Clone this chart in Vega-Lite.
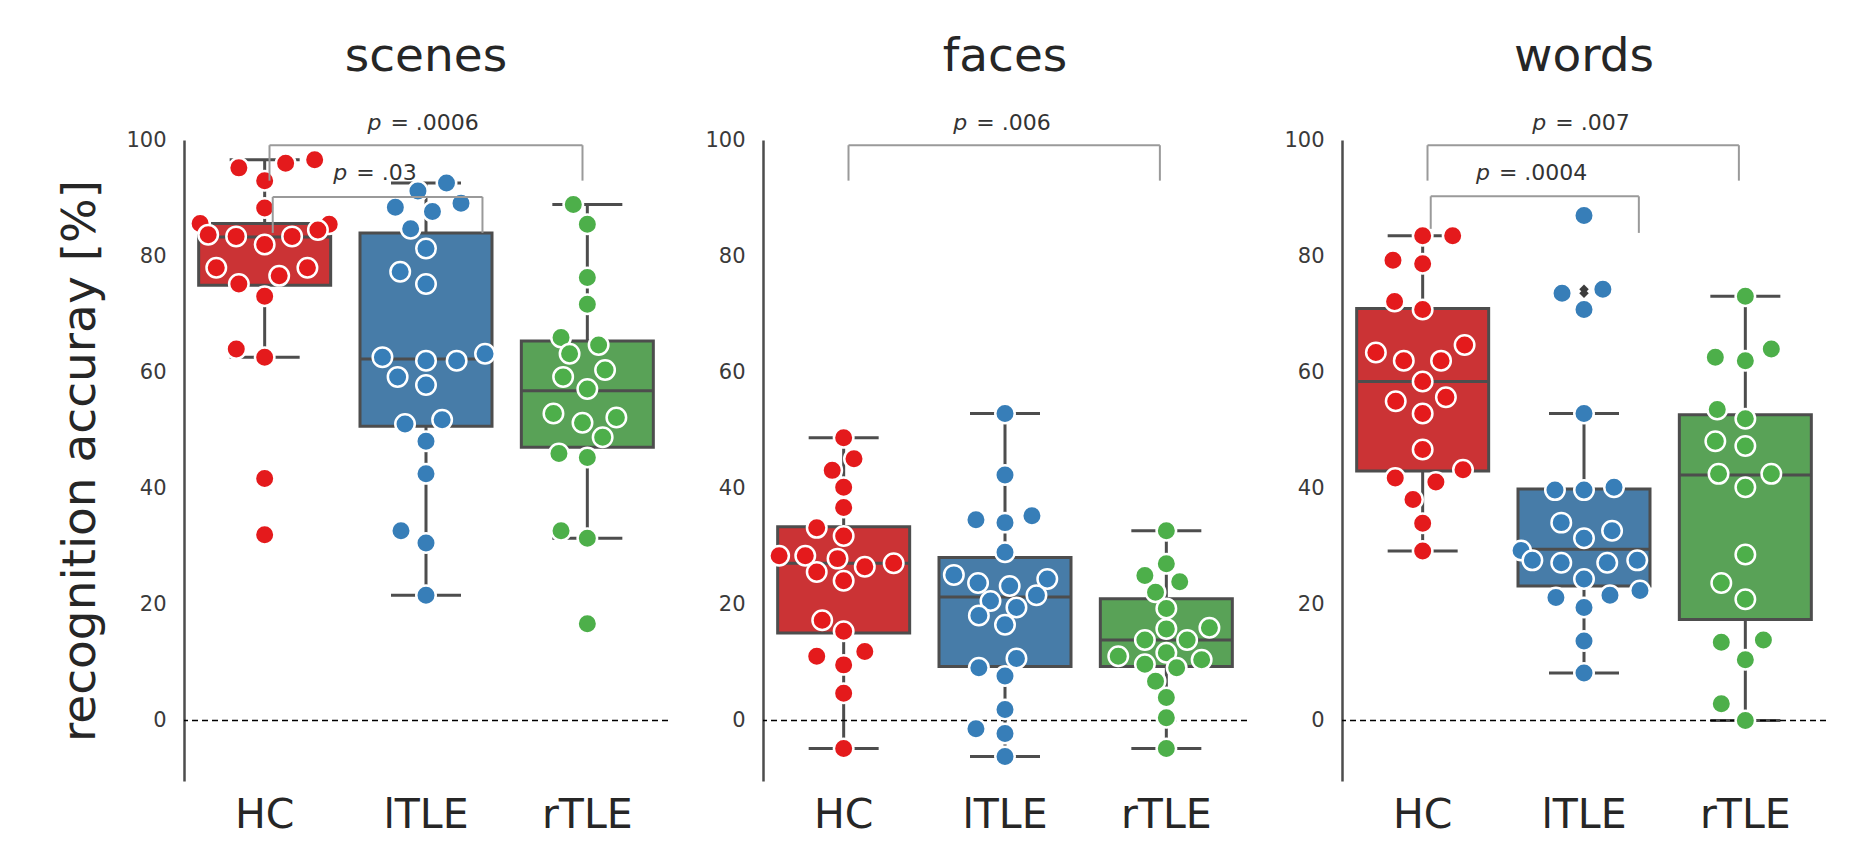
{
"$schema": "https://vega.github.io/schema/vega-lite/v6.json",
"padding": {"left": 56, "top": 32, "right": 10, "bottom": 10},
"background": "white",
"config": {
 "font": "DejaVu Sans",
 "view": {"stroke": null},
 "axisY": {"grid": false, "ticks": false, "domainColor": "#4d4d4d", "domainWidth": 2.5, "labelFontSize": 21, "labelColor": "#3a3a3a", "labelPadding": 18, "titleFontSize": 47, "titleFontWeight": "normal", "titleColor": "#262626", "titlePadding": 21},
 "axisX": {"grid": false, "ticks": false, "domain": false, "labelFontSize": 41, "labelColor": "#262626", "labelPadding": 14, "labelAngle": 0},
 "title": {"fontSize": 47, "fontWeight": "normal", "color": "#262626", "offset": 31}
},
"datasets": {
 "pts": [
  {"t":"scenes","g":"HC","v":95.2,"s":-0.16},{"t":"scenes","g":"HC","v":96.0,"s":0.13},{"t":"scenes","g":"HC","v":96.6,"s":0.31},{"t":"scenes","g":"HC","v":93.0,"s":0},{"t":"scenes","g":"HC","v":88.3,"s":0},{"t":"scenes","g":"HC","v":85.6,"s":-0.4},{"t":"scenes","g":"HC","v":85.5,"s":0.4},{"t":"scenes","g":"HC","v":83.7,"s":-0.35},{"t":"scenes","g":"HC","v":83.4,"s":-0.177},{"t":"scenes","g":"HC","v":83.4,"s":0.17},{"t":"scenes","g":"HC","v":84.5,"s":0.33},{"t":"scenes","g":"HC","v":82.0,"s":0},{"t":"scenes","g":"HC","v":78.0,"s":-0.3},{"t":"scenes","g":"HC","v":78.0,"s":0.265},{"t":"scenes","g":"HC","v":75.2,"s":-0.16},{"t":"scenes","g":"HC","v":76.6,"s":0.09},{"t":"scenes","g":"HC","v":73.1,"s":0},{"t":"scenes","g":"HC","v":64.0,"s":-0.176},{"t":"scenes","g":"HC","v":62.6,"s":0},{"t":"scenes","g":"HC","v":41.7,"s":0},{"t":"scenes","g":"HC","v":32.0,"s":0},
  {"t":"scenes","g":"lTLE","v":92.6,"s":0.127},{"t":"scenes","g":"lTLE","v":91.2,"s":-0.05},{"t":"scenes","g":"lTLE","v":88.4,"s":-0.19},{"t":"scenes","g":"lTLE","v":87.7,"s":0.04},{"t":"scenes","g":"lTLE","v":89.1,"s":0.217},{"t":"scenes","g":"lTLE","v":84.7,"s":-0.095},{"t":"scenes","g":"lTLE","v":81.3,"s":0},{"t":"scenes","g":"lTLE","v":77.3,"s":-0.16},{"t":"scenes","g":"lTLE","v":75.2,"s":0},{"t":"scenes","g":"lTLE","v":62.6,"s":-0.27},{"t":"scenes","g":"lTLE","v":62.0,"s":0},{"t":"scenes","g":"lTLE","v":62.0,"s":0.19},{"t":"scenes","g":"lTLE","v":63.2,"s":0.366},{"t":"scenes","g":"lTLE","v":59.2,"s":-0.176},{"t":"scenes","g":"lTLE","v":57.8,"s":0},{"t":"scenes","g":"lTLE","v":51.1,"s":-0.13},{"t":"scenes","g":"lTLE","v":51.8,"s":0.1},{"t":"scenes","g":"lTLE","v":48.1,"s":0},{"t":"scenes","g":"lTLE","v":42.5,"s":0},{"t":"scenes","g":"lTLE","v":32.7,"s":-0.155},{"t":"scenes","g":"lTLE","v":30.6,"s":0},{"t":"scenes","g":"lTLE","v":21.6,"s":0},
  {"t":"scenes","g":"rTLE","v":88.9,"s":-0.087},{"t":"scenes","g":"rTLE","v":85.5,"s":0},{"t":"scenes","g":"rTLE","v":76.3,"s":0},{"t":"scenes","g":"rTLE","v":71.7,"s":0},{"t":"scenes","g":"rTLE","v":66.0,"s":-0.163},{"t":"scenes","g":"rTLE","v":64.7,"s":0.07},{"t":"scenes","g":"rTLE","v":63.2,"s":-0.11},{"t":"scenes","g":"rTLE","v":60.4,"s":0.11},{"t":"scenes","g":"rTLE","v":59.2,"s":-0.15},{"t":"scenes","g":"rTLE","v":57.1,"s":0},{"t":"scenes","g":"rTLE","v":52.9,"s":-0.21},{"t":"scenes","g":"rTLE","v":52.2,"s":0.18},{"t":"scenes","g":"rTLE","v":51.3,"s":-0.03},{"t":"scenes","g":"rTLE","v":48.8,"s":0.095},{"t":"scenes","g":"rTLE","v":46.0,"s":-0.176},{"t":"scenes","g":"rTLE","v":45.3,"s":0},{"t":"scenes","g":"rTLE","v":32.7,"s":-0.163},{"t":"scenes","g":"rTLE","v":31.4,"s":0},{"t":"scenes","g":"rTLE","v":16.7,"s":0},
  {"t":"faces","g":"HC","v":48.7,"s":0},{"t":"faces","g":"HC","v":45.1,"s":0.064},{"t":"faces","g":"HC","v":43.1,"s":-0.071},{"t":"faces","g":"HC","v":40.2,"s":0},{"t":"faces","g":"HC","v":36.7,"s":0},{"t":"faces","g":"HC","v":33.2,"s":-0.167},{"t":"faces","g":"HC","v":31.8,"s":0},{"t":"faces","g":"HC","v":28.4,"s":-0.4},{"t":"faces","g":"HC","v":28.4,"s":-0.238},{"t":"faces","g":"HC","v":27.9,"s":-0.038},{"t":"faces","g":"HC","v":25.6,"s":-0.167},{"t":"faces","g":"HC","v":26.5,"s":0.131},{"t":"faces","g":"HC","v":27.1,"s":0.31},{"t":"faces","g":"HC","v":24.1,"s":0},{"t":"faces","g":"HC","v":17.3,"s":-0.133},{"t":"faces","g":"HC","v":15.4,"s":0},{"t":"faces","g":"HC","v":11.1,"s":-0.167},{"t":"faces","g":"HC","v":11.9,"s":0.131},{"t":"faces","g":"HC","v":9.6,"s":0},{"t":"faces","g":"HC","v":4.7,"s":0},{"t":"faces","g":"HC","v":-4.8,"s":0},
  {"t":"faces","g":"lTLE","v":52.9,"s":0},{"t":"faces","g":"lTLE","v":42.3,"s":0},{"t":"faces","g":"lTLE","v":34.6,"s":-0.18},{"t":"faces","g":"lTLE","v":34.1,"s":0},{"t":"faces","g":"lTLE","v":35.3,"s":0.167},{"t":"faces","g":"lTLE","v":29.0,"s":0},{"t":"faces","g":"lTLE","v":25.1,"s":-0.317},{"t":"faces","g":"lTLE","v":23.7,"s":-0.167},{"t":"faces","g":"lTLE","v":23.2,"s":0.029},{"t":"faces","g":"lTLE","v":24.4,"s":0.262},{"t":"faces","g":"lTLE","v":20.6,"s":-0.09},{"t":"faces","g":"lTLE","v":21.6,"s":0.195},{"t":"faces","g":"lTLE","v":19.5,"s":0.071},{"t":"faces","g":"lTLE","v":18.1,"s":-0.162},{"t":"faces","g":"lTLE","v":16.5,"s":0},{"t":"faces","g":"lTLE","v":9.1,"s":-0.162},{"t":"faces","g":"lTLE","v":10.7,"s":0.071},{"t":"faces","g":"lTLE","v":7.7,"s":0},{"t":"faces","g":"lTLE","v":1.9,"s":0},{"t":"faces","g":"lTLE","v":-1.4,"s":-0.18},{"t":"faces","g":"lTLE","v":-2.2,"s":0},{"t":"faces","g":"lTLE","v":-6.2,"s":0},
  {"t":"faces","g":"rTLE","v":32.7,"s":0},{"t":"faces","g":"rTLE","v":27.0,"s":0},{"t":"faces","g":"rTLE","v":25.0,"s":-0.133},{"t":"faces","g":"rTLE","v":23.9,"s":0.083},{"t":"faces","g":"rTLE","v":22.1,"s":-0.067},{"t":"faces","g":"rTLE","v":19.3,"s":0},{"t":"faces","g":"rTLE","v":16.0,"s":0.267},{"t":"faces","g":"rTLE","v":15.8,"s":0},{"t":"faces","g":"rTLE","v":13.9,"s":-0.133},{"t":"faces","g":"rTLE","v":13.9,"s":0.129},{"t":"faces","g":"rTLE","v":11.1,"s":-0.298},{"t":"faces","g":"rTLE","v":11.7,"s":0},{"t":"faces","g":"rTLE","v":9.7,"s":-0.133},{"t":"faces","g":"rTLE","v":10.5,"s":0.219},{"t":"faces","g":"rTLE","v":9.1,"s":0.064},{"t":"faces","g":"rTLE","v":6.8,"s":-0.067},{"t":"faces","g":"rTLE","v":4.0,"s":0},{"t":"faces","g":"rTLE","v":0.5,"s":0},{"t":"faces","g":"rTLE","v":-4.8,"s":0},
  {"t":"words","g":"HC","v":83.5,"s":0},{"t":"words","g":"HC","v":83.5,"s":0.186},{"t":"words","g":"HC","v":79.3,"s":-0.184},{"t":"words","g":"HC","v":78.7,"s":0},{"t":"words","g":"HC","v":72.2,"s":-0.174},{"t":"words","g":"HC","v":70.8,"s":0},{"t":"words","g":"HC","v":63.4,"s":-0.29},{"t":"words","g":"HC","v":64.7,"s":0.26},{"t":"words","g":"HC","v":62.0,"s":-0.117},{"t":"words","g":"HC","v":62.0,"s":0.114},{"t":"words","g":"HC","v":58.4,"s":0},{"t":"words","g":"HC","v":55.0,"s":-0.167},{"t":"words","g":"HC","v":55.7,"s":0.144},{"t":"words","g":"HC","v":52.9,"s":0},{"t":"words","g":"HC","v":46.7,"s":0},{"t":"words","g":"HC","v":41.8,"s":-0.17},{"t":"words","g":"HC","v":41.1,"s":0.082},{"t":"words","g":"HC","v":43.2,"s":0.25},{"t":"words","g":"HC","v":38.1,"s":-0.06},{"t":"words","g":"HC","v":34.0,"s":0},{"t":"words","g":"HC","v":29.2,"s":0},
  {"t":"words","g":"lTLE","v":87.0,"s":0},{"t":"words","g":"lTLE","v":73.6,"s":-0.136},{"t":"words","g":"lTLE","v":74.3,"s":0.117},{"t":"words","g":"lTLE","v":70.8,"s":0},{"t":"words","g":"lTLE","v":52.9,"s":0},{"t":"words","g":"lTLE","v":39.7,"s":-0.18},{"t":"words","g":"lTLE","v":39.7,"s":0},{"t":"words","g":"lTLE","v":40.2,"s":0.186},{"t":"words","g":"lTLE","v":34.1,"s":-0.141},{"t":"words","g":"lTLE","v":32.7,"s":0.174},{"t":"words","g":"lTLE","v":31.4,"s":0},{"t":"words","g":"lTLE","v":29.3,"s":-0.39},{"t":"words","g":"lTLE","v":27.6,"s":-0.32},{"t":"words","g":"lTLE","v":27.2,"s":-0.141},{"t":"words","g":"lTLE","v":27.2,"s":0.144},{"t":"words","g":"lTLE","v":27.6,"s":0.33},{"t":"words","g":"lTLE","v":24.4,"s":0},{"t":"words","g":"lTLE","v":21.2,"s":-0.174},{"t":"words","g":"lTLE","v":21.6,"s":0.161},{"t":"words","g":"lTLE","v":22.4,"s":0.347},{"t":"words","g":"lTLE","v":19.5,"s":0},{"t":"words","g":"lTLE","v":13.7,"s":0},{"t":"words","g":"lTLE","v":8.2,"s":0},
  {"t":"words","g":"rTLE","v":73.1,"s":0},{"t":"words","g":"rTLE","v":62.6,"s":-0.186},{"t":"words","g":"rTLE","v":62.0,"s":0},{"t":"words","g":"rTLE","v":64.0,"s":0.161},{"t":"words","g":"rTLE","v":53.6,"s":-0.174},{"t":"words","g":"rTLE","v":52.0,"s":0},{"t":"words","g":"rTLE","v":48.1,"s":-0.186},{"t":"words","g":"rTLE","v":47.3,"s":0},{"t":"words","g":"rTLE","v":42.5,"s":-0.166},{"t":"words","g":"rTLE","v":42.5,"s":0.161},{"t":"words","g":"rTLE","v":40.2,"s":0},{"t":"words","g":"rTLE","v":28.6,"s":0},{"t":"words","g":"rTLE","v":23.7,"s":-0.149},{"t":"words","g":"rTLE","v":20.9,"s":0},{"t":"words","g":"rTLE","v":13.5,"s":-0.149},{"t":"words","g":"rTLE","v":13.9,"s":0.112},{"t":"words","g":"rTLE","v":10.5,"s":0},{"t":"words","g":"rTLE","v":2.9,"s":-0.149},{"t":"words","g":"rTLE","v":0.0,"s":0}
 ],
 "box": [
  {"t":"scenes","g":"HC","lo":62.6,"q1":75.0,"med":83.3,"q3":85.6,"hi":96.6},
  {"t":"scenes","g":"lTLE","lo":21.6,"q1":50.7,"med":62.3,"q3":84.0,"hi":92.6},
  {"t":"scenes","g":"rTLE","lo":31.4,"q1":47.1,"med":56.8,"q3":65.4,"hi":88.9},
  {"t":"faces","g":"HC","lo":-4.8,"q1":15.1,"med":27.1,"q3":33.4,"hi":48.7},
  {"t":"faces","g":"lTLE","lo":-6.2,"q1":9.3,"med":21.3,"q3":28.1,"hi":52.9},
  {"t":"faces","g":"rTLE","lo":-4.8,"q1":9.3,"med":13.9,"q3":21.0,"hi":32.7},
  {"t":"words","g":"HC","lo":29.2,"q1":43.0,"med":58.4,"q3":71.0,"hi":83.5},
  {"t":"words","g":"lTLE","lo":8.2,"q1":23.2,"med":29.5,"q3":39.9,"hi":52.9},
  {"t":"words","g":"rTLE","lo":0.0,"q1":17.4,"med":42.3,"q3":52.7,"hi":73.1}
 ],
 "fl": [
  {"t":"scenes","g":"HC","v":41.7},{"t":"scenes","g":"HC","v":32.0},{"t":"scenes","g":"rTLE","v":16.7},
  {"t":"words","g":"lTLE","v":87.0},{"t":"words","g":"lTLE","v":74.3},{"t":"words","g":"lTLE","v":73.6},{"t":"words","g":"lTLE","v":70.8}
 ],
 "br": [
  {"t":"scenes","x1":0.03,"x2":1.97,"y":99.1,"yl":93.0,"yr":93.0,"tx":0.637,"ty":101.8,"lab":"= .0006"},
  {"t":"scenes","x1":0.05,"x2":1.35,"y":90.2,"yl":84.0,"yr":84.0,"tx":0.425,"ty":93.1,"lab":"= .03"},
  {"t":"faces","x1":0.03,"x2":1.96,"y":99.1,"yl":93.0,"yr":93.0,"tx":0.68,"ty":101.8,"lab":"= .006"},
  {"t":"words","x1":0.03,"x2":1.96,"y":99.1,"yl":93.0,"yr":93.0,"tx":0.68,"ty":101.8,"lab":"= .007"},
  {"t":"words","x1":0.05,"x2":1.34,"y":90.3,"yl":84.7,"yr":84.0,"tx":0.33,"ty":93.1,"lab":"= .0004"}
 ]
},
"hconcat": [
 {
  "title": "scenes", "width": 484, "height": 641,
  "resolve": {"scale": {"x": "independent"}},
  "layer": [
   {"layer": [
    {"data": {"name": "box"}, "transform": [{"filter": "datum.t === 'scenes'"}],
     "mark": {"type": "rule", "color": "#4d4d4d", "strokeWidth": 3},
     "encoding": {"x": {"field": "g", "type": "nominal", "title": null, "sort": null, "scale": {"domain": ["HC","lTLE","rTLE"], "paddingInner": 0, "paddingOuter": 0}},
      "y": {"field": "lo", "type": "quantitative", "title": "recognition accuray [%]", "scale": {"domain": [-10.4, 100], "nice": false, "zero": false}, "axis": {"values": [0,20,40,60,80,100], "title": "recognition accuray [%]"}},
      "y2": {"field": "hi"}}},
    {"data": {"name": "box"}, "transform": [{"filter": "datum.t === 'scenes'"}],
     "mark": {"type": "bar", "size": 132, "stroke": "#4d4d4d", "strokeWidth": 3},
     "encoding": {"x": {"field": "g", "type": "nominal", "title": null},
      "y": {"field": "q1", "type": "quantitative", "title": "recognition accuray [%]"}, "y2": {"field": "q3"},
      "fill": {"field": "g", "type": "nominal", "scale": {"domain": ["HC","lTLE","rTLE"], "range": ["#cb3335","#477ca8","#59a257"]}, "legend": null}}},
    {"data": {"name": "box"}, "transform": [{"filter": "datum.t === 'scenes'"}],
     "mark": {"type": "tick", "orient": "horizontal", "size": 132, "thickness": 3, "color": "#4d4d4d", "opacity": 1},
     "encoding": {"x": {"field": "g", "type": "nominal", "title": null}, "y": {"field": "med", "type": "quantitative", "title": "recognition accuray [%]"}}},
    {"data": {"name": "box"}, "transform": [{"filter": "datum.t === 'scenes'"}],
     "mark": {"type": "tick", "orient": "horizontal", "size": 70, "thickness": 3, "color": "#4d4d4d", "opacity": 1},
     "encoding": {"x": {"field": "g", "type": "nominal", "title": null}, "y": {"field": "lo", "type": "quantitative", "title": "recognition accuray [%]"}}},
    {"data": {"name": "box"}, "transform": [{"filter": "datum.t === 'scenes'"}],
     "mark": {"type": "tick", "orient": "horizontal", "size": 70, "thickness": 3, "color": "#4d4d4d", "opacity": 1},
     "encoding": {"x": {"field": "g", "type": "nominal", "title": null}, "y": {"field": "hi", "type": "quantitative", "title": "recognition accuray [%]"}}},
    {"data": {"values": [{}]},
     "mark": {"type": "rule", "color": "black", "strokeWidth": 1.5, "strokeDash": [6, 4]},
     "encoding": {"y": {"datum": 0, "type": "quantitative", "title": "recognition accuray [%]"}}},
    {"data": {"name": "fl"}, "transform": [{"filter": "datum.t === 'scenes'"}],
     "mark": {"type": "point", "shape": "diamond", "filled": true, "color": "#3d3d3d", "size": 90, "opacity": 1},
     "encoding": {"x": {"field": "g", "type": "nominal", "title": null}, "y": {"field": "v", "type": "quantitative", "title": "recognition accuray [%]"}}},
    {"data": {"name": "pts"}, "transform": [{"filter": "datum.t === 'scenes'"}],
     "mark": {"type": "point", "filled": true, "size": 380, "stroke": "white", "strokeWidth": 2.5, "opacity": 1},
     "encoding": {"x": {"field": "g", "type": "nominal", "title": null},
      "xOffset": {"field": "s", "type": "quantitative", "scale": {"domain": [-0.5, 0.5]}},
      "y": {"field": "v", "type": "quantitative", "title": "recognition accuray [%]"},
      "color": {"field": "g", "type": "nominal", "scale": {"domain": ["HC","lTLE","rTLE"], "range": ["#e41a1c","#377eb8","#4daf4a"]}, "legend": null}}}
   ]},
   {"data": {"name": "br"}, "transform": [{"filter": "datum.t === 'scenes'"}],
    "layer": [
     {"mark": {"type": "rule", "color": "#9a9a9a", "strokeWidth": 2},
      "encoding": {"x": {"field": "x1", "type": "quantitative", "scale": {"domain": [-0.5, 2.5], "nice": false, "zero": false}, "axis": null}, "x2": {"field": "x2"}, "y": {"field": "y", "type": "quantitative", "title": "recognition accuray [%]", "scale": {"domain": [-10.4, 100], "nice": false, "zero": false}}}},
     {"mark": {"type": "rule", "color": "#9a9a9a", "strokeWidth": 2},
      "encoding": {"x": {"field": "x1", "type": "quantitative", "axis": null}, "y": {"field": "y", "type": "quantitative", "title": "recognition accuray [%]"}, "y2": {"field": "yl"}}},
     {"mark": {"type": "rule", "color": "#9a9a9a", "strokeWidth": 2},
      "encoding": {"x": {"field": "x2", "type": "quantitative", "axis": null}, "y": {"field": "y", "type": "quantitative", "title": "recognition accuray [%]"}, "y2": {"field": "yr"}}},
     {"mark": {"type": "text", "text": "p", "fontStyle": "italic", "fontSize": 22, "align": "left", "baseline": "alphabetic", "color": "#333333"},
      "encoding": {"x": {"field": "tx", "type": "quantitative", "axis": null}, "y": {"field": "ty", "type": "quantitative", "title": "recognition accuray [%]"}}},
     {"mark": {"type": "text", "fontSize": 22, "align": "left", "baseline": "alphabetic", "dx": 23, "color": "#333333"},
      "encoding": {"x": {"field": "tx", "type": "quantitative", "axis": null}, "y": {"field": "ty", "type": "quantitative", "title": "recognition accuray [%]"}, "text": {"field": "lab"}}}
    ]}
  ]
 },
 {
  "title": "faces", "width": 484, "height": 641,
  "resolve": {"scale": {"x": "independent"}},
  "layer": [
   {"layer": [
    {"data": {"name": "box"}, "transform": [{"filter": "datum.t === 'faces'"}],
     "mark": {"type": "rule", "color": "#4d4d4d", "strokeWidth": 3},
     "encoding": {"x": {"field": "g", "type": "nominal", "title": null, "sort": null, "scale": {"domain": ["HC","lTLE","rTLE"], "paddingInner": 0, "paddingOuter": 0}},
      "y": {"field": "lo", "type": "quantitative", "title": null, "scale": {"domain": [-10.4, 100], "nice": false, "zero": false}, "axis": {"values": [0,20,40,60,80,100], "title": null}},
      "y2": {"field": "hi"}}},
    {"data": {"name": "box"}, "transform": [{"filter": "datum.t === 'faces'"}],
     "mark": {"type": "bar", "size": 132, "stroke": "#4d4d4d", "strokeWidth": 3},
     "encoding": {"x": {"field": "g", "type": "nominal", "title": null},
      "y": {"field": "q1", "type": "quantitative", "title": null}, "y2": {"field": "q3"},
      "fill": {"field": "g", "type": "nominal", "scale": {"domain": ["HC","lTLE","rTLE"], "range": ["#cb3335","#477ca8","#59a257"]}, "legend": null}}},
    {"data": {"name": "box"}, "transform": [{"filter": "datum.t === 'faces'"}],
     "mark": {"type": "tick", "orient": "horizontal", "size": 132, "thickness": 3, "color": "#4d4d4d", "opacity": 1},
     "encoding": {"x": {"field": "g", "type": "nominal", "title": null}, "y": {"field": "med", "type": "quantitative", "title": null}}},
    {"data": {"name": "box"}, "transform": [{"filter": "datum.t === 'faces'"}],
     "mark": {"type": "tick", "orient": "horizontal", "size": 70, "thickness": 3, "color": "#4d4d4d", "opacity": 1},
     "encoding": {"x": {"field": "g", "type": "nominal", "title": null}, "y": {"field": "lo", "type": "quantitative", "title": null}}},
    {"data": {"name": "box"}, "transform": [{"filter": "datum.t === 'faces'"}],
     "mark": {"type": "tick", "orient": "horizontal", "size": 70, "thickness": 3, "color": "#4d4d4d", "opacity": 1},
     "encoding": {"x": {"field": "g", "type": "nominal", "title": null}, "y": {"field": "hi", "type": "quantitative", "title": null}}},
    {"data": {"values": [{}]},
     "mark": {"type": "rule", "color": "black", "strokeWidth": 1.5, "strokeDash": [6, 4]},
     "encoding": {"y": {"datum": 0, "type": "quantitative", "title": null}}},
    {"data": {"name": "pts"}, "transform": [{"filter": "datum.t === 'faces'"}],
     "mark": {"type": "point", "filled": true, "size": 380, "stroke": "white", "strokeWidth": 2.5, "opacity": 1},
     "encoding": {"x": {"field": "g", "type": "nominal", "title": null},
      "xOffset": {"field": "s", "type": "quantitative", "scale": {"domain": [-0.5, 0.5]}},
      "y": {"field": "v", "type": "quantitative", "title": null},
      "color": {"field": "g", "type": "nominal", "scale": {"domain": ["HC","lTLE","rTLE"], "range": ["#e41a1c","#377eb8","#4daf4a"]}, "legend": null}}}
   ]},
   {"data": {"name": "br"}, "transform": [{"filter": "datum.t === 'faces'"}],
    "layer": [
     {"mark": {"type": "rule", "color": "#9a9a9a", "strokeWidth": 2},
      "encoding": {"x": {"field": "x1", "type": "quantitative", "scale": {"domain": [-0.5, 2.5], "nice": false, "zero": false}, "axis": null}, "x2": {"field": "x2"}, "y": {"field": "y", "type": "quantitative", "title": null, "scale": {"domain": [-10.4, 100], "nice": false, "zero": false}}}},
     {"mark": {"type": "rule", "color": "#9a9a9a", "strokeWidth": 2},
      "encoding": {"x": {"field": "x1", "type": "quantitative", "axis": null}, "y": {"field": "y", "type": "quantitative", "title": null}, "y2": {"field": "yl"}}},
     {"mark": {"type": "rule", "color": "#9a9a9a", "strokeWidth": 2},
      "encoding": {"x": {"field": "x2", "type": "quantitative", "axis": null}, "y": {"field": "y", "type": "quantitative", "title": null}, "y2": {"field": "yr"}}},
     {"mark": {"type": "text", "text": "p", "fontStyle": "italic", "fontSize": 22, "align": "left", "baseline": "alphabetic", "color": "#333333"},
      "encoding": {"x": {"field": "tx", "type": "quantitative", "axis": null}, "y": {"field": "ty", "type": "quantitative", "title": null}}},
     {"mark": {"type": "text", "fontSize": 22, "align": "left", "baseline": "alphabetic", "dx": 23, "color": "#333333"},
      "encoding": {"x": {"field": "tx", "type": "quantitative", "axis": null}, "y": {"field": "ty", "type": "quantitative", "title": null}, "text": {"field": "lab"}}}
    ]}
  ]
 },
 {
  "title": "words", "width": 484, "height": 641,
  "resolve": {"scale": {"x": "independent"}},
  "layer": [
   {"layer": [
    {"data": {"name": "box"}, "transform": [{"filter": "datum.t === 'words'"}],
     "mark": {"type": "rule", "color": "#4d4d4d", "strokeWidth": 3},
     "encoding": {"x": {"field": "g", "type": "nominal", "title": null, "sort": null, "scale": {"domain": ["HC","lTLE","rTLE"], "paddingInner": 0, "paddingOuter": 0}},
      "y": {"field": "lo", "type": "quantitative", "title": null, "scale": {"domain": [-10.4, 100], "nice": false, "zero": false}, "axis": {"values": [0,20,40,60,80,100], "title": null}},
      "y2": {"field": "hi"}}},
    {"data": {"name": "box"}, "transform": [{"filter": "datum.t === 'words'"}],
     "mark": {"type": "bar", "size": 132, "stroke": "#4d4d4d", "strokeWidth": 3},
     "encoding": {"x": {"field": "g", "type": "nominal", "title": null},
      "y": {"field": "q1", "type": "quantitative", "title": null}, "y2": {"field": "q3"},
      "fill": {"field": "g", "type": "nominal", "scale": {"domain": ["HC","lTLE","rTLE"], "range": ["#cb3335","#477ca8","#59a257"]}, "legend": null}}},
    {"data": {"name": "box"}, "transform": [{"filter": "datum.t === 'words'"}],
     "mark": {"type": "tick", "orient": "horizontal", "size": 132, "thickness": 3, "color": "#4d4d4d", "opacity": 1},
     "encoding": {"x": {"field": "g", "type": "nominal", "title": null}, "y": {"field": "med", "type": "quantitative", "title": null}}},
    {"data": {"name": "box"}, "transform": [{"filter": "datum.t === 'words'"}],
     "mark": {"type": "tick", "orient": "horizontal", "size": 70, "thickness": 3, "color": "#4d4d4d", "opacity": 1},
     "encoding": {"x": {"field": "g", "type": "nominal", "title": null}, "y": {"field": "lo", "type": "quantitative", "title": null}}},
    {"data": {"name": "box"}, "transform": [{"filter": "datum.t === 'words'"}],
     "mark": {"type": "tick", "orient": "horizontal", "size": 70, "thickness": 3, "color": "#4d4d4d", "opacity": 1},
     "encoding": {"x": {"field": "g", "type": "nominal", "title": null}, "y": {"field": "hi", "type": "quantitative", "title": null}}},
    {"data": {"values": [{}]},
     "mark": {"type": "rule", "color": "black", "strokeWidth": 1.5, "strokeDash": [6, 4]},
     "encoding": {"y": {"datum": 0, "type": "quantitative", "title": null}}},
    {"data": {"name": "fl"}, "transform": [{"filter": "datum.t === 'words'"}],
     "mark": {"type": "point", "shape": "diamond", "filled": true, "color": "#3d3d3d", "size": 90, "opacity": 1},
     "encoding": {"x": {"field": "g", "type": "nominal", "title": null}, "y": {"field": "v", "type": "quantitative", "title": null}}},
    {"data": {"name": "pts"}, "transform": [{"filter": "datum.t === 'words'"}],
     "mark": {"type": "point", "filled": true, "size": 380, "stroke": "white", "strokeWidth": 2.5, "opacity": 1},
     "encoding": {"x": {"field": "g", "type": "nominal", "title": null},
      "xOffset": {"field": "s", "type": "quantitative", "scale": {"domain": [-0.5, 0.5]}},
      "y": {"field": "v", "type": "quantitative", "title": null},
      "color": {"field": "g", "type": "nominal", "scale": {"domain": ["HC","lTLE","rTLE"], "range": ["#e41a1c","#377eb8","#4daf4a"]}, "legend": null}}}
   ]},
   {"data": {"name": "br"}, "transform": [{"filter": "datum.t === 'words'"}],
    "layer": [
     {"mark": {"type": "rule", "color": "#9a9a9a", "strokeWidth": 2},
      "encoding": {"x": {"field": "x1", "type": "quantitative", "scale": {"domain": [-0.5, 2.5], "nice": false, "zero": false}, "axis": null}, "x2": {"field": "x2"}, "y": {"field": "y", "type": "quantitative", "title": null, "scale": {"domain": [-10.4, 100], "nice": false, "zero": false}}}},
     {"mark": {"type": "rule", "color": "#9a9a9a", "strokeWidth": 2},
      "encoding": {"x": {"field": "x1", "type": "quantitative", "axis": null}, "y": {"field": "y", "type": "quantitative", "title": null}, "y2": {"field": "yl"}}},
     {"mark": {"type": "rule", "color": "#9a9a9a", "strokeWidth": 2},
      "encoding": {"x": {"field": "x2", "type": "quantitative", "axis": null}, "y": {"field": "y", "type": "quantitative", "title": null}, "y2": {"field": "yr"}}},
     {"mark": {"type": "text", "text": "p", "fontStyle": "italic", "fontSize": 22, "align": "left", "baseline": "alphabetic", "color": "#333333"},
      "encoding": {"x": {"field": "tx", "type": "quantitative", "axis": null}, "y": {"field": "ty", "type": "quantitative", "title": null}}},
     {"mark": {"type": "text", "fontSize": 22, "align": "left", "baseline": "alphabetic", "dx": 23, "color": "#333333"},
      "encoding": {"x": {"field": "tx", "type": "quantitative", "axis": null}, "y": {"field": "ty", "type": "quantitative", "title": null}, "text": {"field": "lab"}}}
    ]}
  ]
 }
],
"spacing": 95,
"bounds": "flush"
}
